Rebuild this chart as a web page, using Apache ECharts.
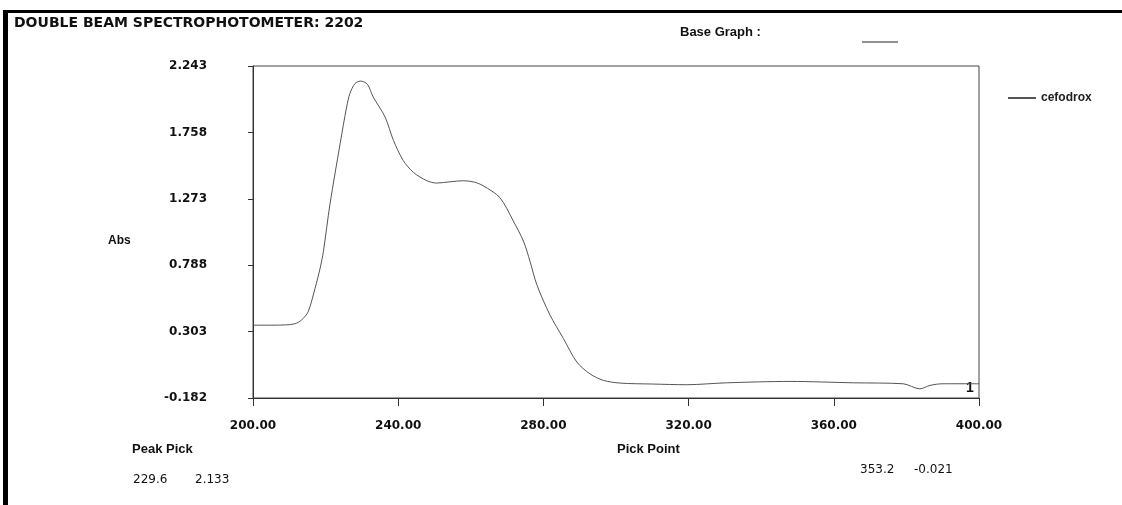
<!DOCTYPE html>
<html>
<head>
<meta charset="utf-8">
<script src="https://cdn.jsdelivr.net/npm/echarts@6/dist/echarts.min.js"></script>
<style>
  html, body { margin: 0; padding: 0; background: #fff; }
  #chart { width: 1122px; height: 505px; }
</style>
</head>
<body>
<div id="chart"></div>
<script>
  // wavelength (nm) / absorbance
  var wavelengths = [200, 205, 209, 211.5, 213.4, 215.2, 217.1, 218.5, 219.4, 221.2, 224.0, 225.8, 226.7, 228.1,
    229.6, 231.5, 233.1, 236.4, 238.7, 241.4, 244.2, 247.9, 250.6, 254.3, 257.9, 261.0, 263.4, 268.0,
    271.7, 274.5, 276.3, 278.2, 281.8, 285.5, 289.2, 292.8, 296.5, 301.1, 310, 319.5, 330.5, 347.9,
    365.4, 379.1, 383.7, 386.5, 390, 400];
  var absorbance = [0.350, 0.350, 0.352, 0.360, 0.388, 0.449, 0.620, 0.767, 0.890, 1.233, 1.675, 1.944, 2.042, 2.115,
    2.133, 2.110, 2.017, 1.870, 1.699, 1.552, 1.466, 1.405, 1.388, 1.397, 1.405, 1.395, 1.368, 1.282,
    1.111, 0.964, 0.817, 0.645, 0.425, 0.253, 0.081, -0.005, -0.053, -0.073, -0.080, -0.085, -0.071, -0.061,
    -0.071, -0.078, -0.115, -0.090, -0.078, -0.078];
  var yTicks = [-0.182, 0.303, 0.788, 1.273, 1.758, 2.243];

  var chart = echarts.init(document.getElementById('chart'));
  var points = wavelengths.map(function (w, i) { return [w, absorbance[i]]; });
  var font = '"Liberation Sans", Arial, sans-serif';
  var wide = '"DejaVu Sans", sans-serif';

  var option = {
    animation: false,
    backgroundColor: '#fff',
    grid: {
      left: 253, right: 143, top: 66, bottom: 107,
      show: true, borderColor: '#444', borderWidth: 1
    },
    legend: {
      left: 1003, top: 87,
      itemWidth: 28, itemHeight: 2, itemGap: 10,
      icon: 'rect',
      textStyle: { fontFamily: font, fontSize: 12, fontWeight: 'bold', color: '#222' },
      data: ['cefodrox']
    },
    xAxis: {
      type: 'value', min: 200, max: 400, interval: 40,
      axisLine: { onZero: false, lineStyle: { color: '#333' } },
      axisTick: { show: true, length: 8, inside: false, lineStyle: { color: '#333' } },
      splitLine: { show: false },
      axisLabel: {
        margin: 22, color: '#111', fontFamily: wide, fontSize: 12, fontWeight: 'bold',
        formatter: function (v) { return v.toFixed(2); }
      }
    },
    yAxis: {
      type: 'value', min: -0.182, max: 2.243,
      axisLine: { show: true, onZero: false, lineStyle: { color: '#333' } },
      axisTick: { show: true, length: 5, customValues: yTicks, lineStyle: { color: '#333' } },
      splitLine: { show: false },
      axisLabel: {
        margin: 46, color: '#111', fontFamily: wide, fontSize: 12, fontWeight: 'bold',
        customValues: yTicks,
        formatter: function (v) { return v.toFixed(3); }
      }
    },
    series: [{
      name: 'cefodrox',
      type: 'line',
      data: points,
      smooth: 0.3,
      showSymbol: false,
      lineStyle: { color: '#555', width: 1 },
      itemStyle: { color: '#555' }
    }],
    graphic: [
      { type: 'rect', shape: { x: 3, y: 10, width: 1119, height: 3 }, style: { fill: '#000' } },
      { type: 'rect', shape: { x: 3, y: 10, width: 5, height: 495 }, style: { fill: '#000' } },
      { type: 'text', left: 14, top: 16, style: { text: 'DOUBLE BEAM SPECTROPHOTOMETER: 2202', fontFamily: wide, fontSize: 14, fontWeight: 'bold', fill: '#111' } },
      { type: 'text', left: 680, top: 26, style: { text: 'Base Graph :', fontFamily: font, fontSize: 13, fontWeight: 'bold', fill: '#111' } },
      { type: 'line', shape: { x1: 862, y1: 42, x2: 898, y2: 42 }, style: { stroke: '#222', lineWidth: 1 } },
      { type: 'text', left: 108, top: 235, style: { text: 'Abs', fontFamily: font, fontSize: 12, fontWeight: 'bold', fill: '#111' } },
      { type: 'text', left: 966, top: 381, style: { text: '1', fontFamily: font, fontSize: 14, fontWeight: 'bold', fill: '#111' } },
      { type: 'text', left: 617, top: 443, style: { text: 'Pick Point', fontFamily: font, fontSize: 13, fontWeight: 'bold', fill: '#111' } },
      { type: 'text', left: 132, top: 443, style: { text: 'Peak Pick', fontFamily: font, fontSize: 13, fontWeight: 'bold', fill: '#111' } },
      { type: 'text', left: 133, top: 474, style: { text: '229.6', fontFamily: wide, fontSize: 12, fill: '#111' } },
      { type: 'text', left: 195, top: 474, style: { text: '2.133', fontFamily: wide, fontSize: 12, fill: '#111' } },
      { type: 'text', left: 860, top: 464, style: { text: '353.2', fontFamily: wide, fontSize: 12, fill: '#111' } },
      { type: 'text', left: 914, top: 464, style: { text: '-0.021', fontFamily: wide, fontSize: 12, fill: '#111' } }
    ]
  };

  chart.setOption(option);
</script>
</body>
</html>
